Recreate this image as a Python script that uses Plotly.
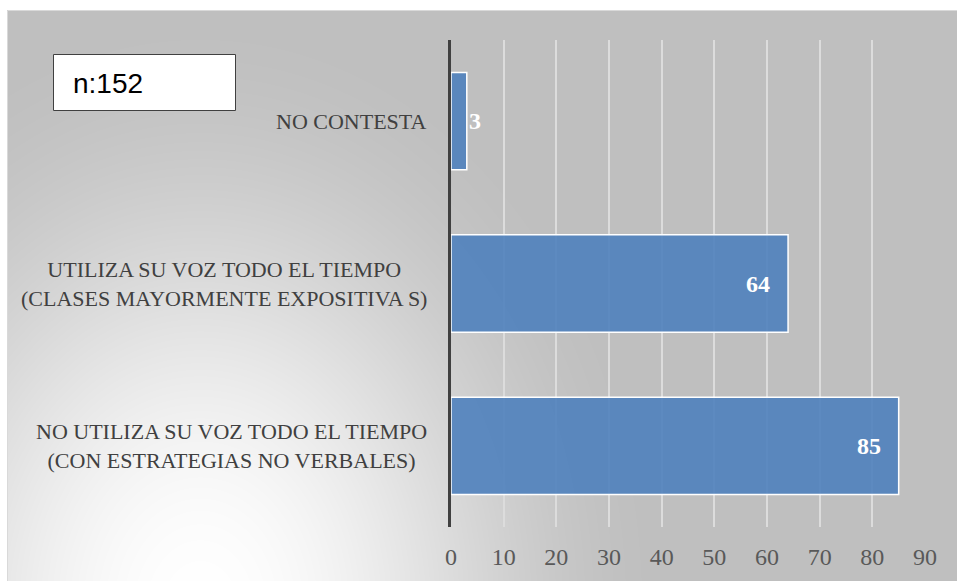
import base64, struct, zlib
import numpy as np
import plotly.graph_objects as go

# ---- data ----
categories = [
    "NO CONTESTA",
    "UTILIZA SU VOZ TODO EL TIEMPO<br>(CLASES MAYORMENTE EXPOSITIVA S)",
    "NO UTILIZA SU VOZ TODO EL TIEMPO<br>(CON ESTRATEGIAS NO VERBALES)",
]
values = [3, 64, 85]
x_ticks = [0, 10, 20, 30, 40, 50, 60, 70, 80, 90]
note_text = "n:152"

# ---- layout geometry (pixels) ----
W, H = 957, 581
PL, PR, PT, PB = 451, 925, 40, 527
pw, ph = PR - PL, PB - PT


def px(X):
    return (X - PL) / pw


def py(Y):
    return (PB - Y) / ph


# ---- radial gradient background as PNG ----
BX0, BY0 = 7, 10
bw, bh = W - BX0, H - BY0
yy, xx = np.mgrid[0:bh, 0:bw].astype(float)
cx, cy = 200 - BX0, 610 - BY0
t = np.sqrt(((xx - cx) / 480.0) ** 2 + ((yy - cy) / 620.0) ** 2)
t = np.clip(t, 0, 1)
f = 0.5 * (1 + np.cos(np.pi * t))
img = np.clip(191 + 64 * f, 0, 255).astype(np.uint8)


def png_gray(a):
    h, w = a.shape
    raw = b"".join(b"\x00" + a[i].tobytes() for i in range(h))

    def chunk(tag, data):
        c = struct.pack(">I", len(data)) + tag + data
        return c + struct.pack(">I", zlib.crc32(tag + data) & 0xFFFFFFFF)

    return (b"\x89PNG\r\n\x1a\n"
            + chunk(b"IHDR", struct.pack(">IIBBBBB", w, h, 8, 0, 0, 0, 0))
            + chunk(b"IDAT", zlib.compress(raw, 9))
            + chunk(b"IEND", b""))


bg_uri = "data:image/png;base64," + base64.b64encode(png_gray(img)).decode()

SERIF = "Liberation Serif, Times New Roman, serif"

fig = go.Figure()
fig.add_trace(go.Bar(
    x=values, y=categories, orientation="h", width=0.6,
    marker=dict(color="rgba(79,129,189,0.9)", line=dict(color="white", width=1.5)),
    hoverinfo="x+y",
))

annotations = []
for c, v in zip(categories, values):
    annotations.append(dict(
        x=-22 / pw, xref="paper", y=c, yref="y", text=c, showarrow=False,
        xanchor="right", align="center",
        font=dict(family=SERIF, size=22, color="#404040"),
    ))
    small = v < 10
    annotations.append(dict(
        x=v, xref="x", y=c, yref="y", text="<b>%d</b>" % v, showarrow=False,
        xanchor="left" if small else "right", xshift=0 if small else -16,
        font=dict(family=SERIF, size=24, color="white"),
    ))
annotations.append(dict(
    x=px(71), xref="paper", y=py(83), yref="paper", text=note_text,
    showarrow=False, xanchor="left", yanchor="middle",
    font=dict(family="Liberation Sans, Arial, sans-serif", size=28, color="black"),
))

fig.update_layout(
    width=W, height=H,
    margin=dict(l=PL, r=W - PR, t=PT, b=H - PB, pad=0),
    paper_bgcolor="white", plot_bgcolor="rgba(0,0,0,0)",
    showlegend=False,
    xaxis=dict(
        range=[0, 90], tickvals=x_ticks, showgrid=True,
        gridcolor="#DCDCDC", gridwidth=1.5, zeroline=False, showline=False,
        ticks="", ticklabelstandoff=13,
        tickfont=dict(family=SERIF, size=24, color="#595959"),
        fixedrange=True,
    ),
    yaxis=dict(
        categoryorder="array", categoryarray=categories,
        autorange="reversed", range=[2.5, -0.5],
        showticklabels=False, showgrid=False, zeroline=False,
        showline=True, linecolor="#404040", linewidth=3, ticks="",
        fixedrange=True,
    ),
    images=[dict(
        source=bg_uri, xref="paper", yref="paper",
        x=px(BX0), y=py(BY0), sizex=bw / pw, sizey=bh / ph,
        xanchor="left", yanchor="top", sizing="stretch", layer="below",
    )],
    shapes=[
        dict(type="rect", xref="paper", yref="paper",
             x0=px(BX0 + 0.5), x1=px(W + 5), y0=py(BY0 + 0.5), y1=py(H + 5),
             line=dict(color="#D9D9D9", width=1), fillcolor="rgba(0,0,0,0)"),
        dict(type="rect", xref="paper", yref="paper",
             x0=px(53.5), x1=px(235.5), y0=py(54.5), y1=py(110.5),
             line=dict(color="#404040", width=1), fillcolor="white"),
    ],
    annotations=annotations,
)

fig.write_html("out.html", config={"displayModeBar": False})
